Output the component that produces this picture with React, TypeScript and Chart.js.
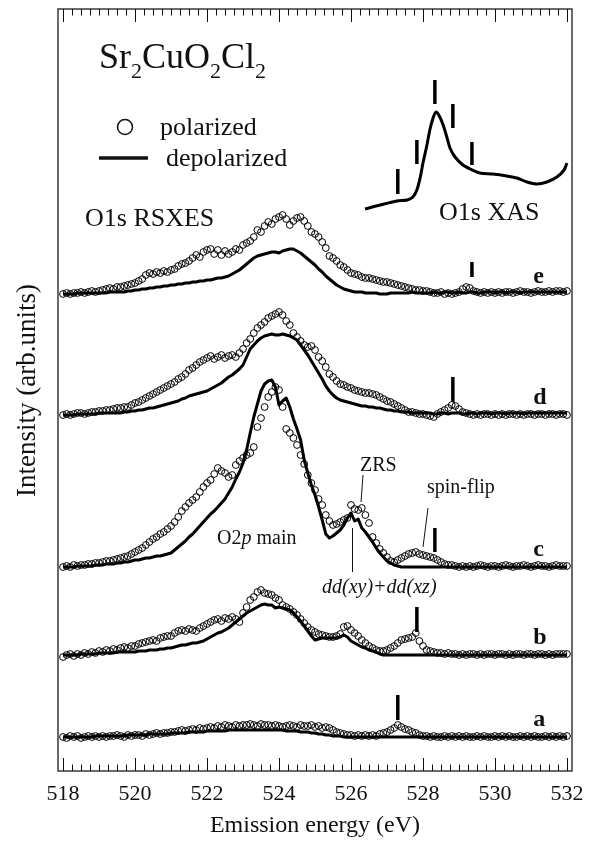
import { useEffect, useRef } from 'react';
import { Chart, registerables } from 'chart.js';

Chart.register(...registerables);

// Emission energy grid (eV), 0.1 eV sampling from 518.0 to 532.0
const ENERGY_START = 518;
const ENERGY_STEP = 0.1;
const ENERGY = Array.from({ length: 141 }, (_, i) => Math.round((ENERGY_START + i * ENERGY_STEP) * 10) / 10);

const SPECTRA = ['a', 'b', 'c', 'd', 'e'];
const BASELINES = [34, 116, 204, 356, 477];
const EXCITATION = [527.3, 527.83, 528.33, 528.83, 529.36];
const MARK_FROM = [17, 23, 15, 13, 17];
const MARK_TO = [42, 48, 39, 38, 32];

// Spectrum a
const POL_A = [
  0, -1, 1, 0, 1, -1, 0, 1, 0, 1,
  0, 1, 0, 1, 1, 2, 1, 0, 2, 1,
  2, 2, 1, 3, 2, 3, 4, 3, 4, 4,
  5, 5, 6, 7, 6, 7, 8, 7, 9, 8,
  9, 10, 9, 11, 10, 12, 11, 10, 12, 11,
  12, 12, 13, 12, 11, 13, 12, 12, 11, 12,
  11, 10, 11, 12, 11, 10, 12, 11, 11, 12,
  10, 11, 9, 10, 9, 7, 5, 4, 3, 2,
  2, 1, 2, 1, 2, 1, 2, 1, 3, 4,
  5, 7, 9, 12, 10, 8, 7, 5, 4, 2,
  1, 1, 0, 1, 0, 0, 1, 0, 1, 0,
  1, 0, 1, 0, 0, 1, 0, 1, 0, 0,
  1, 0, 1, 0, 1, 0, 0, 1, 0, 1,
  0, 1, 0, 0, 1, 0, 1, 0, 1, 0,
  1,
];
const DEP_A = [
  0, 0, 0, 0, 0, 0, 0, 0, 0, 1,
  1, 1, 1, 1, 1, 1, 1, 1, 2, 2,
  2, 2, 2, 2, 3, 3, 3, 3, 3, 3,
  4, 4, 4, 4, 4, 5, 5, 5, 5, 5,
  6, 6, 6, 6, 6, 6, 7, 7, 7, 7,
  7, 7, 7, 7, 7, 7, 7, 7, 7, 7,
  7, 7, 6, 6, 6, 6, 5, 5, 5, 4,
  4, 3, 3, 2, 2, 1, 1, 1, 0, 0,
  0, 0, 0, 0, 0, 0, 0, 0, 0, 0,
  0, 0, 0, 0, 0, 0, 0, 0, 0, 0,
  0, 0, 0, 0, 0, 0, 0, 0, 0, 0,
  0, 0, 0, 0, 0, 0, 0, 0, 0, 0,
  0, 0, 0, 0, 0, 0, 0, 0, 0, 0,
  0, 0, 0, 0, 0, 0, 0, 0, 0, 0,
  0,
];

// Spectrum b
const POL_B = [
  -2, 0, 1, -1, 1, 0, 2, 1, 3, 2,
  4, 3, 5, 4, 6, 5, 7, 8, 7, 9,
  9, 11, 12, 13, 14, 15, 14, 17, 18, 19,
  19, 22, 24, 25, 24, 26, 25, 24, 27, 29,
  31, 33, 35, 36, 34, 37, 36, 38, 36, 33,
  42, 48, 55, 58, 63, 65, 62, 61, 60, 57,
  55, 50, 48, 46, 43, 40, 36, 32, 28, 25,
  23, 21, 20, 19, 18, 18, 19, 21, 28, 29,
  25, 22, 19, 15, 12, 9, 7, 5, 4, 4,
  5, 7, 9, 12, 15, 16, 17, 18, 22, 14,
  9, 5, 4, 3, 2, 2, 1, 2, 1, 1,
  0, 1, 0, 1, 1, 0, 1, 0, 1, 1,
  0, 1, 1, 0, 1, 0, 1, 1, 0, 1,
  1, 0, 1, 1, 0, 1, 0, 1, 1, 1,
  1,
];
const DEP_B = [
  0, 0, 0, 0, 0, 1, 1, 1, 1, 1,
  2, 2, 2, 2, 2, 3, 3, 3, 3, 3,
  3, 4, 4, 4, 5, 5, 5, 6, 6, 7,
  7, 8, 9, 10, 10, 11, 12, 12, 13, 14,
  16, 18, 20, 22, 23, 25, 27, 30, 33, 36,
  39, 42, 44, 46, 48, 50, 51, 50, 50, 47,
  48, 47, 46, 45, 42, 38, 34, 29, 24, 19,
  15, 16, 17, 17, 17, 17, 17, 18, 20, 18,
  14, 12, 10, 8, 7, 5, 4, 3, 1, 0,
  0, 0, 0, 0, 0, 0, 0, 0, 0, 0,
  0, 0, 0, 0, 0, 0, 0, 0, 0, 0,
  0, 0, 0, 0, 0, 0, 0, 0, 0, 0,
  0, 0, 0, 0, 0, 0, 0, 0, 0, 0,
  0, 0, 0, 0, 0, 0, 0, 0, 0, 0,
  0,
];

// Spectrum c
const POL_C = [
  0, 1, 0, 2, 1, 2, 2, 3, 3, 4,
  4, 5, 6, 6, 7, 8, 9, 10, 11, 13,
  15, 17, 19, 22, 25, 28, 30, 33, 35, 38,
  41, 45, 50, 56, 60, 64, 67, 70, 75, 80,
  84, 87, 93, 99, 96, 94, 90, 92, 102, 106,
  109, 112, 114, 120, 140, 149, 160, 170, 175, 180,
  177, 160, 138, 134, 129, 122, 112, 103, 92, 84,
  77, 68, 62, 52, 46, 42, 43, 45, 47, 49,
  62, 58, 57, 59, 52, 44, 30, 24, 18, 14,
  10, 6, 5, 7, 9, 11, 13, 14, 15, 13,
  12, 11, 10, 9, 7, 5, 3, 2, 2, 1,
  0, 1, 0, 1, 0, 1, 2, 1, 0, 1,
  1, 0, 1, 2, 1, 0, 1, 1, 2, 1,
  0, 1, 2, 1, 1, 0, 1, 2, 1, 1,
  1,
];
const DEP_C = [
  0, 0, 0, 0, 1, 1, 1, 1, 1, 2,
  2, 2, 3, 3, 3, 4, 4, 5, 5, 6,
  7, 7, 8, 9, 9, 10, 11, 11, 12, 13,
  14, 17, 20, 23, 26, 30, 33, 37, 41, 45,
  49, 53, 56, 60, 64, 68, 74, 80, 88, 95,
  104, 117, 134, 150, 163, 176, 183, 186, 187, 180,
  162, 166, 169, 160, 148, 138, 127, 107, 94, 82,
  72, 60, 47, 33, 29, 31, 34, 37, 42, 49,
  54, 46, 48, 39, 35, 30, 25, 19, 14, 10,
  6, 4, 2, 1, 0, 0, 0, 0, 0, 0,
  0, 0, 0, 0, 0, 0, 0, 0, 0, 0,
  0, 0, 0, 0, 0, 0, 0, 0, 0, 0,
  0, 0, 0, 0, 0, 0, 0, 0, 0, 0,
  0, 0, 0, 0, 0, 0, 0, 0, 0, 0,
  0,
];

// Spectrum d
const POL_D = [
  0, 1, 0, 1, 2, 2, 1, 2, 3, 3,
  4, 4, 5, 5, 6, 7, 7, 8, 8, 10,
  12, 13, 15, 17, 19, 21, 23, 25, 27, 29,
  31, 33, 36, 38, 41, 45, 47, 50, 53, 55,
  57, 59, 56, 58, 60, 57, 59, 60, 58, 62,
  66, 72, 76, 82, 87, 90, 93, 97, 99, 101,
  103, 100, 94, 90, 82, 78, 74, 70, 68, 69,
  65, 58, 54, 48, 41, 38, 34, 31, 30, 28,
  27, 25, 24, 23, 22, 22, 21, 20, 18, 16,
  14, 13, 11, 9, 7, 5, 3, 3, 2, 1,
  1, 0, -1, -2, 1, 3, 5, 7, 10, 9,
  6, 3, 2, 1, 0, 1, 0, 1, 1, 0,
  1, 0, 1, 0, 1, 1, 0, 1, 0, 1,
  1, 0, 1, 1, 0, 1, 1, 0, 1, 1,
  0,
];
const DEP_D = [
  0, 0, 0, 0, 1, 1, 1, 1, 1, 1,
  2, 2, 2, 2, 2, 2, 2, 3, 3, 4,
  4, 5, 5, 6, 7, 7, 8, 9, 10, 11,
  12, 13, 14, 16, 17, 19, 20, 21, 22, 23,
  24, 26, 28, 30, 32, 35, 38, 40, 43, 46,
  50, 58, 66, 70, 74, 77, 79, 80, 81, 80,
  80, 81, 80, 79, 77, 75, 70, 65, 60, 54,
  48, 42, 36, 29, 24, 20, 17, 15, 14, 13,
  12, 11, 10, 9, 9, 8, 8, 7, 7, 6,
  5, 5, 4, 4, 3, 3, 3, 2, 2, 2,
  2, 2, 2, 1, 1, 2, 2, 1, 2, 2,
  2, 1, 1, 2, 2, 1, 2, 2, 2, 1,
  2, 2, 2, 1, 2, 2, 2, 2, 1, 2,
  2, 2, 2, 2, 2, 2, 2, 2, 2, 2,
  2,
];

// Spectrum e
const POL_E = [
  0, 1, 0, 1, 1, 2, 1, 2, 3, 2,
  3, 4, 5, 6, 5, 7, 7, 8, 9, 10,
  11, 13, 15, 19, 21, 20, 22, 21, 23, 22,
  24, 25, 28, 30, 31, 33, 36, 39, 37, 42,
  44, 45, 40, 44, 39, 43, 40, 42, 45, 44,
  49, 51, 53, 57, 64, 62, 68, 72, 70, 75,
  77, 79, 75, 69, 73, 76, 77, 73, 68, 62,
  60, 57, 52, 46, 38, 36, 33, 29, 27, 24,
  21, 20, 19, 17, 16, 16, 15, 14, 13, 12,
  12, 11, 10, 9, 8, 7, 6, 5, 4, 4,
  3, 3, 2, 1, 1, 2, 0, 1, 0, 1,
  2, 5, 7, 6, 3, 2, 1, 2, 1, 2,
  1, 2, 1, 2, 2, 1, 2, 3, 2, 2,
  1, 2, 3, 2, 2, 3, 2, 3, 3, 2,
  3,
];
const DEP_E = [
  0, 0, 0, 0, 1, 1, 1, 1, 1, 1,
  1, 1, 1, 2, 2, 2, 2, 2, 3, 3,
  4, 4, 5, 5, 6, 6, 7, 7, 8, 8,
  9, 9, 10, 10, 11, 11, 12, 12, 13, 13,
  14, 14, 15, 16, 16, 17, 18, 20, 22, 24,
  27, 30, 33, 36, 38, 39, 40, 41, 42, 42,
  41, 43, 44, 45, 45, 43, 41, 38, 35, 32,
  29, 25, 22, 18, 15, 12, 9, 7, 5, 4,
  3, 2, 2, 2, 1, 1, 1, 1, 0, 0,
  0, 1, 1, 1, 1, 1, 1, 2, 1, 1,
  1, 1, 1, 2, 1, 1, 2, 2, 1, 1,
  2, 1, 1, 2, 2, 1, 1, 2, 2, 2,
  1, 2, 2, 1, 2, 2, 2, 1, 2, 2,
  2, 2, 2, 2, 2, 2, 2, 2, 2, 2,
  2,
];

const POLARIZED = [POL_A, POL_B, POL_C, POL_D, POL_E];
const DEPOLARIZED = [DEP_A, DEP_B, DEP_C, DEP_D, DEP_E];

// O1s XAS inset (drawn on the same horizontal scale)
const XAS_ENERGY = [
  526.39, 526.81, 527.28, 527.56, 527.72, 527.83, 527.92, 528.0, 528.11, 528.19,
  528.28, 528.36, 528.44, 528.56, 528.67, 528.75, 528.89, 529.11, 529.31, 529.58,
  529.94, 530.33, 530.61, 530.89, 531.17, 531.44, 531.72, 531.92, 532.0,
];
const XAS_INTENSITY = [
  0, 4, 8, 9, 12, 19, 31, 46, 64, 79,
  91, 97, 94, 84, 71, 61, 52, 44, 40, 36,
  35, 33, 31, 27, 25, 27, 32, 39, 46,
];
const XAS_BASELINE = 562;
const XAS_MARK_FROM = [15, 45, 105, 81, 44];
const XAS_MARK_TO = [40, 69, 129, 105, 67];

const X_MIN = 517.86;
const X_MAX = 532.14;
const Y_MIN = 0;
const Y_MAX = 762;
const MAJOR_TICKS = [518, 520, 522, 524, 526, 528, 530, 532];
const TICK_LABELS = ['518', '520', '522', '524', '526', '528', '530', '532'];
const MINOR_STEP = 0.25;
const LABEL_ENERGY = 531.06;

const FONT = '"Liberation Serif", "Times New Roman", serif';

const decorPlugin = {
  id: 'decor',
  afterDraw(chart: any) {
    const { ctx, chartArea, scales } = chart;
    const { left, right, top, bottom } = chartArea;
    const xs = scales.x;
    const ys = scales.y;
    ctx.save();

    // Frame
    ctx.strokeStyle = '#3a3a3a';
    ctx.lineWidth = 1.5;
    ctx.strokeRect(left, top, right - left, bottom - top);

    // Inside ticks on bottom and top axes
    ctx.strokeStyle = '#111';
    ctx.lineWidth = 1;
    const n = Math.round((MAJOR_TICKS[MAJOR_TICKS.length - 1] - MAJOR_TICKS[0]) / MINOR_STEP);
    for (let i = 0; i <= n; i++) {
      const v = MAJOR_TICKS[0] + i * MINOR_STEP;
      const isMajor = MAJOR_TICKS.includes(v);
      const len = isMajor ? 13 : 6.5;
      const px = Math.round(xs.getPixelForValue(v)) + 0.5;
      ctx.beginPath();
      ctx.moveTo(px, bottom);
      ctx.lineTo(px, bottom - len);
      ctx.moveTo(px, top);
      ctx.lineTo(px, top + len);
      ctx.stroke();
    }

    ctx.fillStyle = '#111';
    // Tick labels
    ctx.font = `22px ${FONT}`;
    ctx.textAlign = 'center';
    ctx.textBaseline = 'alphabetic';
    MAJOR_TICKS.forEach((v, i) => {
      ctx.fillText(TICK_LABELS[i], xs.getPixelForValue(v), bottom + 29);
    });

    // Axis titles
    ctx.font = `24px ${FONT}`;
    ctx.fillText('Emission energy (eV)', (left + right) / 2, 832);
    ctx.save();
    ctx.translate(35, 497);
    ctx.rotate(-Math.PI / 2);
    ctx.textAlign = 'left';
    ctx.font = `27px ${FONT}`;
    ctx.fillText('Intensity (arb.units)', 0, 0);
    ctx.restore();

    // Compound formula
    ctx.textAlign = 'left';
    let cx = 99;
    const parts: [string, boolean][] = [
      ['Sr', false], ['2', true], ['CuO', false], ['2', true], ['Cl', false], ['2', true],
    ];
    parts.forEach(([t, sub]) => {
      ctx.font = sub ? `22px ${FONT}` : `36px ${FONT}`;
      ctx.fillText(t, cx, sub ? 78 : 68);
      cx += ctx.measureText(t).width;
    });

    // Legend
    ctx.lineWidth = 1.5;
    ctx.strokeStyle = '#111';
    ctx.beginPath();
    ctx.arc(125, 127, 7.5, 0, Math.PI * 2);
    ctx.stroke();
    ctx.lineWidth = 3.5;
    ctx.beginPath();
    ctx.moveTo(99, 158);
    ctx.lineTo(148, 158);
    ctx.stroke();
    ctx.font = `26px ${FONT}`;
    ctx.fillText('polarized', 160, 135);
    ctx.fillText('depolarized', 166, 166);

    ctx.fillText('O1s RSXES', 85, 226);
    ctx.fillText('O1s XAS', 439, 220);

    // Spectrum letters
    ctx.font = `bold 24px ${FONT}`;
    SPECTRA.forEach((s, k) => {
      ctx.fillText(s, xs.getPixelForValue(LABEL_ENERGY), ys.getPixelForValue(BASELINES[k]) - 11);
    });

    // Feature annotations in spectrum c
    ctx.font = `20px ${FONT}`;
    ctx.fillText('ZRS', 360, 471);
    ctx.fillText('spin-flip', 427, 493);
    ctx.fillText('O2', 217, 544);
    let ox = 217 + ctx.measureText('O2').width;
    ctx.font = `italic 20px ${FONT}`;
    ctx.fillText('p', ox, 544);
    ox += ctx.measureText('p').width;
    ctx.font = `20px ${FONT}`;
    ctx.fillText(' main', ox, 544);
    ctx.font = `italic 20px ${FONT}`;
    ctx.fillText('dd(xy)+dd(xz)', 322, 593);

    ctx.lineWidth = 1;
    ctx.beginPath();
    ctx.moveTo(363, 475);
    ctx.lineTo(361, 502);
    ctx.moveTo(428, 508);
    ctx.lineTo(423, 547);
    ctx.moveTo(352.5, 528);
    ctx.lineTo(352.5, 572);
    ctx.stroke();

    ctx.restore();
  },
};

function buildDatasets() {
  const ds: any[] = [];
  SPECTRA.forEach((_, k) => {
    ds.push({
      type: 'line',
      data: ENERGY.map((e, i) => ({ x: e, y: BASELINES[k] + DEPOLARIZED[k][i] })),
      borderColor: '#000',
      borderWidth: 3,
      borderJoinStyle: 'round',
      pointRadius: 0,
      tension: 0,
    });
  });
  SPECTRA.forEach((_, k) => {
    ds.push({
      type: 'line',
      data: ENERGY.map((e, i) => ({ x: e, y: BASELINES[k] + POLARIZED[k][i] })),
      showLine: false,
      pointRadius: 3.4,
      pointBorderWidth: 1,
      pointBorderColor: '#000',
      pointBackgroundColor: 'rgba(255,255,255,0)',
    });
  });
  // XAS curve
  ds.push({
    type: 'line',
    data: XAS_ENERGY.map((e, i) => ({ x: e, y: XAS_BASELINE + XAS_INTENSITY[i] })),
    borderColor: '#000',
    borderWidth: 3,
    borderJoinStyle: 'round',
    pointRadius: 0,
    tension: 0.3,
  });
  // Excitation-energy markers on spectra and on XAS
  EXCITATION.forEach((e, k) => {
    ds.push({
      type: 'line',
      data: [
        { x: e, y: BASELINES[k] + MARK_FROM[k] },
        { x: e, y: BASELINES[k] + MARK_TO[k] },
      ],
      borderColor: '#000',
      borderWidth: 3.5,
      pointRadius: 0,
    });
    ds.push({
      type: 'line',
      data: [
        { x: e, y: XAS_BASELINE + XAS_MARK_FROM[k] },
        { x: e, y: XAS_BASELINE + XAS_MARK_TO[k] },
      ],
      borderColor: '#000',
      borderWidth: 3.5,
      pointRadius: 0,
    });
  });
  return ds;
}

export default function App() {
  const ref = useRef<HTMLCanvasElement>(null);
  useEffect(() => {
    if (!ref.current) return;
    const chart = new Chart(ref.current, {
      type: 'line',
      data: { datasets: buildDatasets() },
      options: {
        animation: false,
        responsive: true,
        maintainAspectRatio: false,
        devicePixelRatio: 1,
        layout: { padding: { left: 58, top: 9, right: 21, bottom: 70 } },
        plugins: { legend: { display: false }, tooltip: { enabled: false } },
        events: [],
        scales: {
          x: { type: 'linear', min: X_MIN, max: X_MAX, display: false },
          y: { type: 'linear', min: Y_MIN, max: Y_MAX, display: false },
        },
      },
      plugins: [decorPlugin],
    } as any);
    return () => chart.destroy();
  }, []);
  return (
    <div style={{ position: 'fixed', left: 0, top: 0, width: 593, height: 841, background: '#fff' }}>
      <canvas ref={ref} />
    </div>
  );
}
